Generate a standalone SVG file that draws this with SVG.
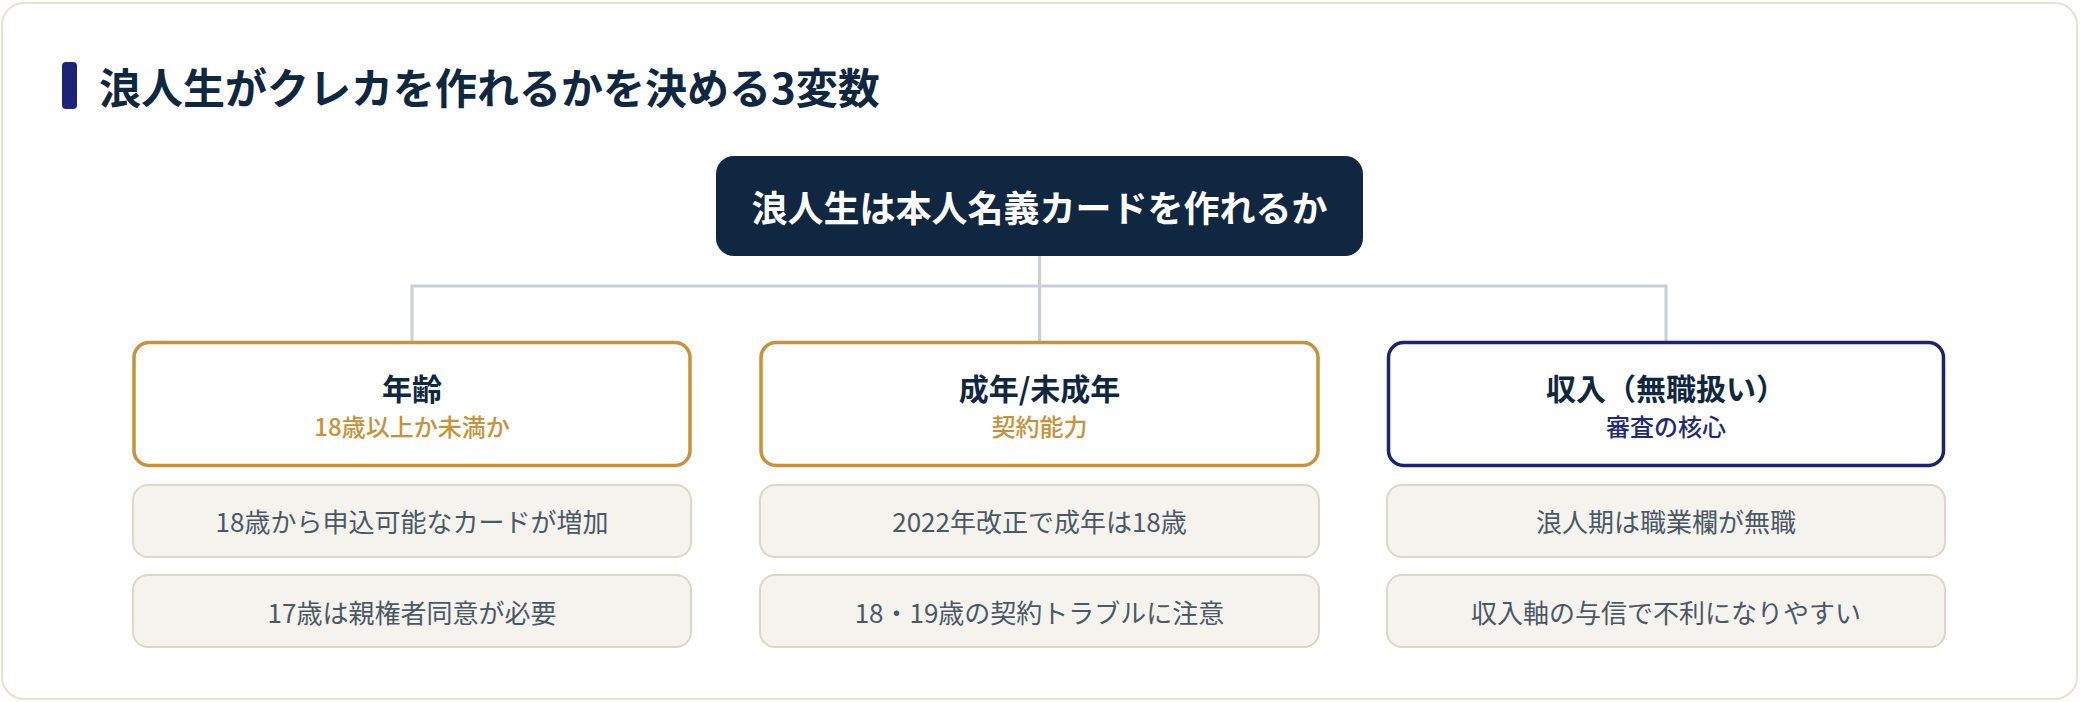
<svg xmlns="http://www.w3.org/2000/svg" width="2080" height="702" viewBox="0 0 2080 702">
  <style>
    text { font-family: "Noto Sans CJK JP", "Noto Sans", sans-serif; text-anchor: middle; }
    .title { font-size: 42px; font-weight: 700; fill: #0f2740; text-anchor: start; }
    .root-box { fill: #0f2740; }
    .root-text { font-size: 36px; font-weight: 700; fill: #ffffff; }
    .cat { fill: #ffffff; stroke-width: 3.5; }
    .cat-gold { stroke: #c8913a; }
    .cat-navy { stroke: #1c2374; }
    .cat-title { font-size: 30px; font-weight: 700; fill: #0f2740; }
    .cat-sub { font-size: 24px; font-weight: 500; }
    .sub-gold { fill: #c8913a; }
    .sub-navy { fill: #1f2a7a; }
    .desc { fill: #f5f3ee; stroke: #dcd7c7; stroke-width: 2; }
    .desc-text { font-size: 26px; font-weight: 400; fill: #4b5866; }
    .conn { fill: none; stroke: #c8cfd9; stroke-width: 3; }
  </style>

  <rect x="2" y="3" width="2075" height="696" rx="22" fill="#ffffff" stroke="#e6e2d3" stroke-width="2"/>

  <g id="heading">
    <rect x="62" y="62" width="15" height="47" rx="4" fill="#1e2378"/>
    <text class="title" x="99" y="104">浪人生がクレカを作れるかを決める3変数</text>
  </g>

  <g id="connectors">
    <path class="conn" d="M1039.5 256 V286"/>
    <path class="conn" d="M412 342 V286 H1666 V342"/>
    <path class="conn" d="M1039.5 286 V342"/>
  </g>

  <g id="root">
    <rect class="root-box" x="716" y="156" width="647" height="100" rx="18"/>
    <text class="root-text" x="1039.5" y="222">浪人生は本人名義カードを作れるか</text>
  </g>

  <g id="cat-age">
    <rect class="cat cat-gold" x="134" y="342.5" width="556" height="123" rx="15"/>
    <text class="cat-title" x="412" y="400">年齢</text>
    <text class="cat-sub sub-gold" x="412" y="436">18歳以上か未満か</text>
  </g>
  <g id="cat-adult">
    <rect class="cat cat-gold" x="761" y="342.5" width="557" height="123" rx="15"/>
    <text class="cat-title" x="1039.5" y="400">成年/未成年</text>
    <text class="cat-sub sub-gold" x="1039.5" y="436">契約能力</text>
  </g>
  <g id="cat-income">
    <rect class="cat cat-navy" x="1388.5" y="342.5" width="555" height="123" rx="15"/>
    <text class="cat-title" x="1666" y="400">収入（無職扱い）</text>
    <text class="cat-sub sub-navy" x="1666" y="436">審査の核心</text>
  </g>

  <g id="desc-age-1">
    <rect class="desc" x="133" y="485" width="558" height="72" rx="15"/>
    <text class="desc-text" x="412" y="532">18歳から申込可能なカードが増加</text>
  </g>
  <g id="desc-age-2">
    <rect class="desc" x="133" y="575" width="558" height="72" rx="15"/>
    <text class="desc-text" x="412" y="623">17歳は親権者同意が必要</text>
  </g>
  <g id="desc-adult-1">
    <rect class="desc" x="760" y="485" width="559" height="72" rx="15"/>
    <text class="desc-text" x="1039.5" y="532">2022年改正で成年は18歳</text>
  </g>
  <g id="desc-adult-2">
    <rect class="desc" x="760" y="575" width="559" height="72" rx="15"/>
    <text class="desc-text" x="1039.5" y="623">18・19歳の契約トラブルに注意</text>
  </g>
  <g id="desc-income-1">
    <rect class="desc" x="1387" y="485" width="558" height="72" rx="15"/>
    <text class="desc-text" x="1666" y="532">浪人期は職業欄が無職</text>
  </g>
  <g id="desc-income-2">
    <rect class="desc" x="1387" y="575" width="558" height="72" rx="15"/>
    <text class="desc-text" x="1666" y="623">収入軸の与信で不利になりやすい</text>
  </g>
</svg>
